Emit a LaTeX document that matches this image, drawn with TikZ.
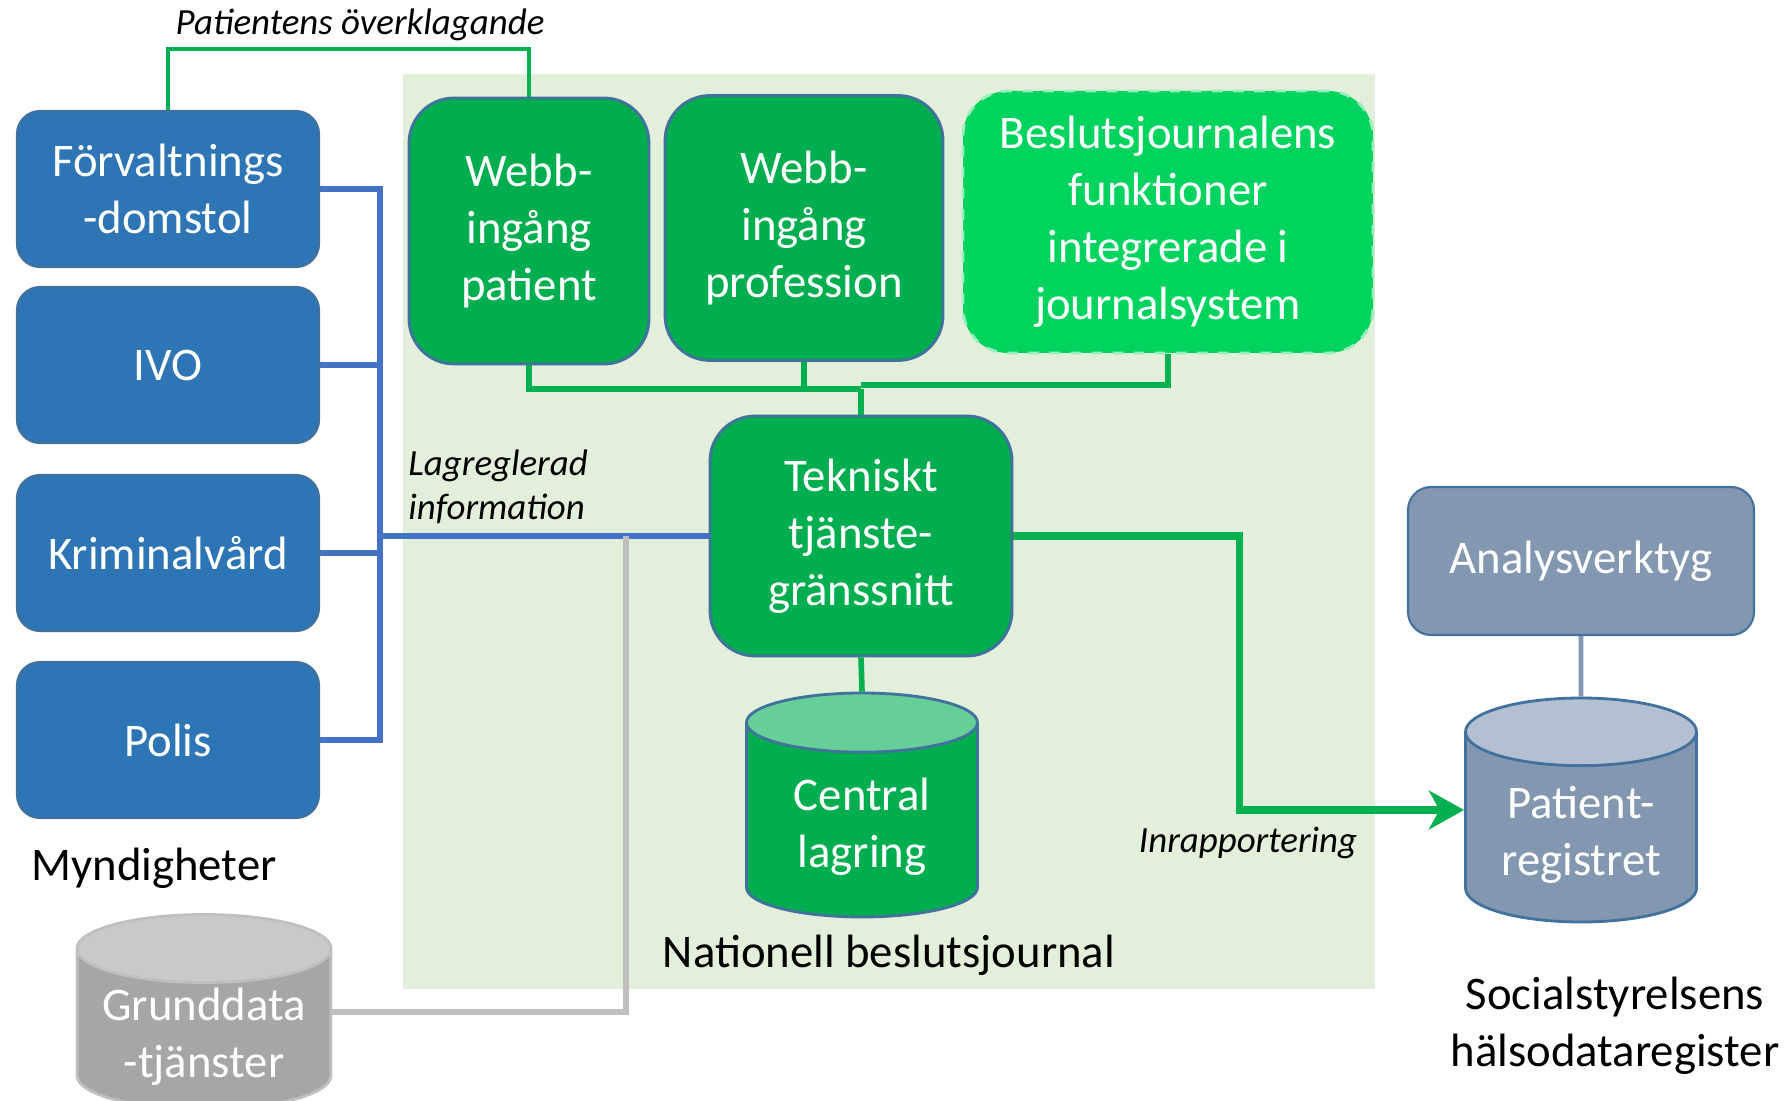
\documentclass[tikz,border=0pt]{standalone}
\usepackage{fontspec}
\setmainfont{Carlito}
\usetikzlibrary{shapes.geometric,arrows.meta}
\definecolor{agencyblue}{HTML}{2E75B6}
\definecolor{boxedge}{HTML}{41719C}
\definecolor{nbgreen}{HTML}{00AD4F}
\definecolor{brightgreen}{HTML}{00D45F}
\definecolor{cyltop}{HTML}{66CF97}
\definecolor{bggreen}{HTML}{E2EFDA}
\definecolor{greyblue}{HTML}{8497B0}
\definecolor{greybluetop}{HTML}{B4C0D2}
\definecolor{linkblue}{HTML}{4472C4}
\definecolor{linkgreen}{HTML}{00B050}
\definecolor{linkgrey}{HTML}{BFBFBF}
\definecolor{bodygrey}{HTML}{A6A6A6}
\definecolor{topgrey}{HTML}{C9C9C9}
\newcommand{\boxfont}{\fontsize{13.3}{16.2}\selectfont}
\newcommand{\labfont}{\fontsize{10.5}{12.6}\selectfont\itshape}
\tikzset{
  agency/.style={draw=boxedge,fill=agencyblue,rounded corners=0.23cm,line width=0.6pt,
    text=white,font=\boxfont,align=center,minimum width=3.02cm,minimum height=1.56cm},
  webbox/.style={draw=boxedge,fill=nbgreen,rounded corners=0.45cm,line width=0.8pt,
    text=white,font=\boxfont,align=center},
  store/.style={cylinder,shape border rotate=90,aspect=0.37,draw=boxedge,line width=0.8pt,
    cylinder uses custom fill,text=white,font=\boxfont,align=center,inner ysep=1pt,
    anchor=shape center,minimum width=2.31cm,minimum height=2.24cm},
  caption/.style={font=\boxfont,align=center},
  flowlabel/.style={font=\labfont},
  bluelink/.style={draw=linkblue,line width=1.7pt},
  greenlink/.style={draw=linkgreen,line width=1.6pt},
  greylink/.style={draw=linkgrey,line width=1.8pt}
}
\begin{document}
\begin{tikzpicture}
	\useasboundingbox (0,0) rectangle (17.91,-11.01);
	\fill[bggreen] (4.03,-0.74) rectangle (13.75,-9.89);
	% myndigheter
	\node[agency] (forv) at (1.68,-1.89) {Förvaltnings\\-domstol};
	\node[agency] (ivo) at (1.68,-3.65) {IVO};
	\node[agency] (krim) at (1.68,-5.53) {Kriminalvård};
	\node[agency] (polis) at (1.68,-7.40) {Polis};
	\node[caption] (mynd) at (1.54,-8.68) {Myndigheter};
	\node[store,aspect=0.30,draw=linkgrey,cylinder body fill=bodygrey,cylinder end fill=topgrey,
		minimum width=2.54cm,minimum height=1.95cm] (grund) at (2.04,-10.12) {Grunddata\\-tjänster};
	% nationell beslutsjournal
	\node[webbox,minimum width=2.40cm,minimum height=2.66cm] (webbpat) at (5.29,-2.31) {Webb-\\ingång\\patient};
	\node[webbox,minimum width=2.78cm,minimum height=2.65cm] (webbprof) at (8.04,-2.28) {Webb-\\ingång\\profession};
	\node[webbox,fill=brightgreen,draw=white!60!brightgreen,dashed,minimum width=4.10cm,minimum height=2.62cm] (beslut) at (11.68,-2.22) {Beslutsjournalens\\funktioner\\integrerade i\\journalsystem};
	\node[webbox,minimum width=3.02cm,minimum height=2.40cm] (tek) at (8.61,-5.36) {Tekniskt\\tjänste-\\gränssnitt};
	\node[store,cylinder body fill=nbgreen,cylinder end fill=cyltop] (central) at (8.62,-8.05) {Central\\lagring};
	\node[caption] (natl) at (8.89,-9.55) {Nationell beslutsjournal};
	% socialstyrelsen
	\node[agency,fill=greyblue,minimum width=3.46cm,minimum height=1.48cm] (analys) at (15.81,-5.61) {Analysverktyg};
	\node[store,cylinder body fill=greyblue,cylinder end fill=greybluetop] (patreg) at (15.81,-8.10) {Patient-\\registret};
	\node[caption] (social) at (16.15,-10.26) {Socialstyrelsens\\hälsodataregister};
	% etiketter
	\node[flowlabel] (overkl) at (3.60,-0.25) {Patientens överklagande};
	\node[flowlabel,anchor=west,align=left] (lagr) at (3.96,-4.87) {Lagreglerad\\information};
	\node[flowlabel] (inrapp) at (12.48,-8.43) {Inrapportering};
	% kopplingar
	\coordinate (bus) at (3.80,-5.36);
	\coordinate (jn) at (8.61,-3.89);
	\draw[greenlink,line width=1.4pt] (forv.north) -- (1.68,-0.49) -| (webbpat.north);
	\draw[bluelink] (forv.east) -| (bus);
	\draw[bluelink] (ivo.east) -| (bus);
	\draw[bluelink] (krim.east) -| (bus);
	\draw[bluelink] (polis.east) -| (bus);
	\draw[bluelink] (bus) -- (tek.west);
	\draw[greylink] (grund.east |- grund.shape center) -| (6.26,-5.36);
	\draw[greenlink] (webbpat.south) |- (jn);
	\draw[greenlink] (webbprof.south) -- (webbprof.south |- jn);
	\draw[greenlink] (beslut.south) |- (8.61,-3.85);
	\draw[greenlink] (jn) -- (tek.north);
	\draw[greenlink] (tek.south) -- (central.north);
	\draw[linkgreen,line width=2pt,-{Stealth[length=10pt,width=11pt,inset=3pt]}] (tek.east) -- (12.39,-5.36) |- (patreg.west |- patreg.shape center);
	\draw[greyblue,line width=1.4pt] (analys.south) -- (patreg.north);
\end{tikzpicture}
\end{document}
